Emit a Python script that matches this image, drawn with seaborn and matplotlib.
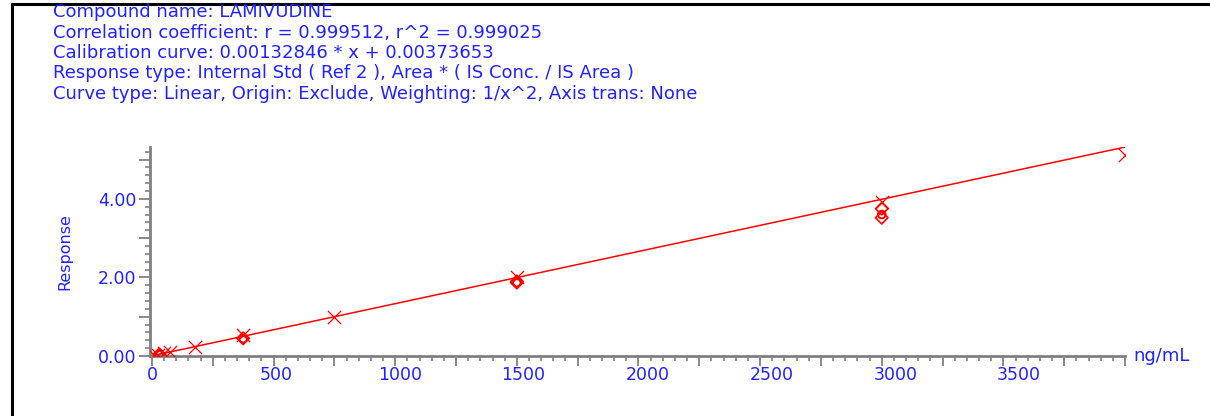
import matplotlib
matplotlib.use("Agg")
import matplotlib.pyplot as plt
from matplotlib.ticker import MultipleLocator, FuncFormatter
from matplotlib.lines import Line2D
from matplotlib.transforms import ScaledTranslation
import seaborn as sns

# ---- data ----
header_lines = [
    "Compound name: LAMIVUDINE",
    "Correlation coefficient: r = 0.999512, r^2 = 0.999025",
    "Calibration curve: 0.00132846 * x + 0.00373653",
    "Response type: Internal Std ( Ref 2 ), Area * ( IS Conc. / IS Area )",
    "Curve type: Linear, Origin: Exclude, Weighting: 1/x^2, Axis trans: None",
]
std_conc = [10, 25, 50, 75, 175, 375, 750, 1500, 3000, 4000]
std_resp = [0.016, 0.036, 0.07, 0.10, 0.24, 0.53, 1.00, 2.00, 3.93, 5.11]
qc_d_conc = [30, 375, 1500, 1500, 3000, 3000]
qc_d_resp = [0.04, 0.45, 1.87, 1.90, 3.75, 3.52]
qc_o_conc = [30, 375, 1500, 3000]
qc_o_resp = [0.035, 0.44, 1.86, 3.60]
fit_x = [10, 4000]
fit_y = [0.017, 5.318]
x_ticklabels = [0, 500, 1000, 1500, 2000, 2500, 3000, 3500]
y_ticklabels = [0, 2, 4]
x_label = "ng/mL"
y_label = "Response"

BLUE = "#2222ff"
RED = "#ff0000"
GRAY = "#808080"

sns.set_style("white")
plt.rcParams["font.family"] = ["DejaVu Sans"]

W, H = 1210, 416
fig = plt.figure(figsize=(W / 100, H / 100), dpi=100)
ax = fig.add_axes([150 / W, (H - 356) / H, (1125 - 150) / W, (356 - 147) / H])

sns.lineplot(x=fit_x, y=fit_y, ax=ax, color=RED, linewidth=1.1)
sns.scatterplot(x=std_conc, y=std_resp, ax=ax, marker="x", s=90, color=RED, linewidth=0.9, zorder=3)
sns.scatterplot(x=qc_d_conc, y=qc_d_resp, ax=ax, marker="D", s=40, facecolor="none", edgecolor=RED, linewidth=1.2, zorder=3)
sns.scatterplot(x=qc_o_conc, y=qc_o_resp, ax=ax, marker="o", s=30, facecolor="none", edgecolor=RED, linewidth=1.4, zorder=3)

ax.set_xlim(-8, 4000)
ax.set_ylim(0, 5.32)
for s in ["top", "right"]:
    ax.spines[s].set_visible(False)
for s in ["left", "bottom"]:
    ax.spines[s].set_color(GRAY)
    ax.spines[s].set_linewidth(2.0)

ax.xaxis.set_major_locator(MultipleLocator(250))
ax.xaxis.set_minor_locator(MultipleLocator(50))
ax.yaxis.set_major_locator(MultipleLocator(1))
ax.yaxis.set_minor_locator(MultipleLocator(0.2))
ax.xaxis.set_major_formatter(FuncFormatter(
    lambda v, p: f"{int(round(v))}" if int(round(v)) in x_ticklabels else ""))
ax.yaxis.set_major_formatter(FuncFormatter(
    lambda v, p: f"{v:.2f}" if int(round(v)) in y_ticklabels else ""))
ax.tick_params(axis="both", which="both", bottom=True, left=True, top=False, right=False)
ax.tick_params(axis="y", which="major", direction="out", length=8, width=1.3, color=GRAY,
               labelcolor=BLUE, labelsize=12.5, pad=2)
ax.tick_params(axis="x", which="major", direction="out", length=7.5, width=1.3, color=GRAY,
               labelcolor=BLUE, labelsize=12.5, pad=0)
ax.tick_params(axis="both", which="minor", direction="out", length=3.8, width=1.2, color=GRAY)

# the reference's x labels drift slightly right of their ticks
fig.canvas.draw()
for tick in ax.xaxis.get_major_ticks():
    v = tick.get_loc()
    dx = v * 0.0045 / 100.0
    tick.label1.set_transform(tick.label1.get_transform() + ScaledTranslation(dx, 0, fig.dpi_scale_trans))

ax.set_xlabel("")
ax.set_ylabel("")
fig.text(65 / W, 1 - 252 / H, y_label, rotation=90, color=BLUE, fontsize=11.5, ha="center", va="center")
fig.text(1133 / W, 1 - 356 / H, x_label, color=BLUE, fontsize=13, ha="left", va="center")

for i, line in enumerate(header_lines):
    fig.text(53 / W, 1 - (12 + i * 20.5) / H, line, color=BLUE, fontsize=13, ha="left", va="center")

# frame lines (top and left)
fig.add_artist(Line2D([12 / W, 1.0], [1 - 4 / H, 1 - 4 / H], transform=fig.transFigure, color="black", linewidth=2.2))
fig.add_artist(Line2D([12 / W, 12 / W], [0, 1 - 4 / H], transform=fig.transFigure, color="black", linewidth=2.2))

fig.savefig("out.png", dpi=100)
